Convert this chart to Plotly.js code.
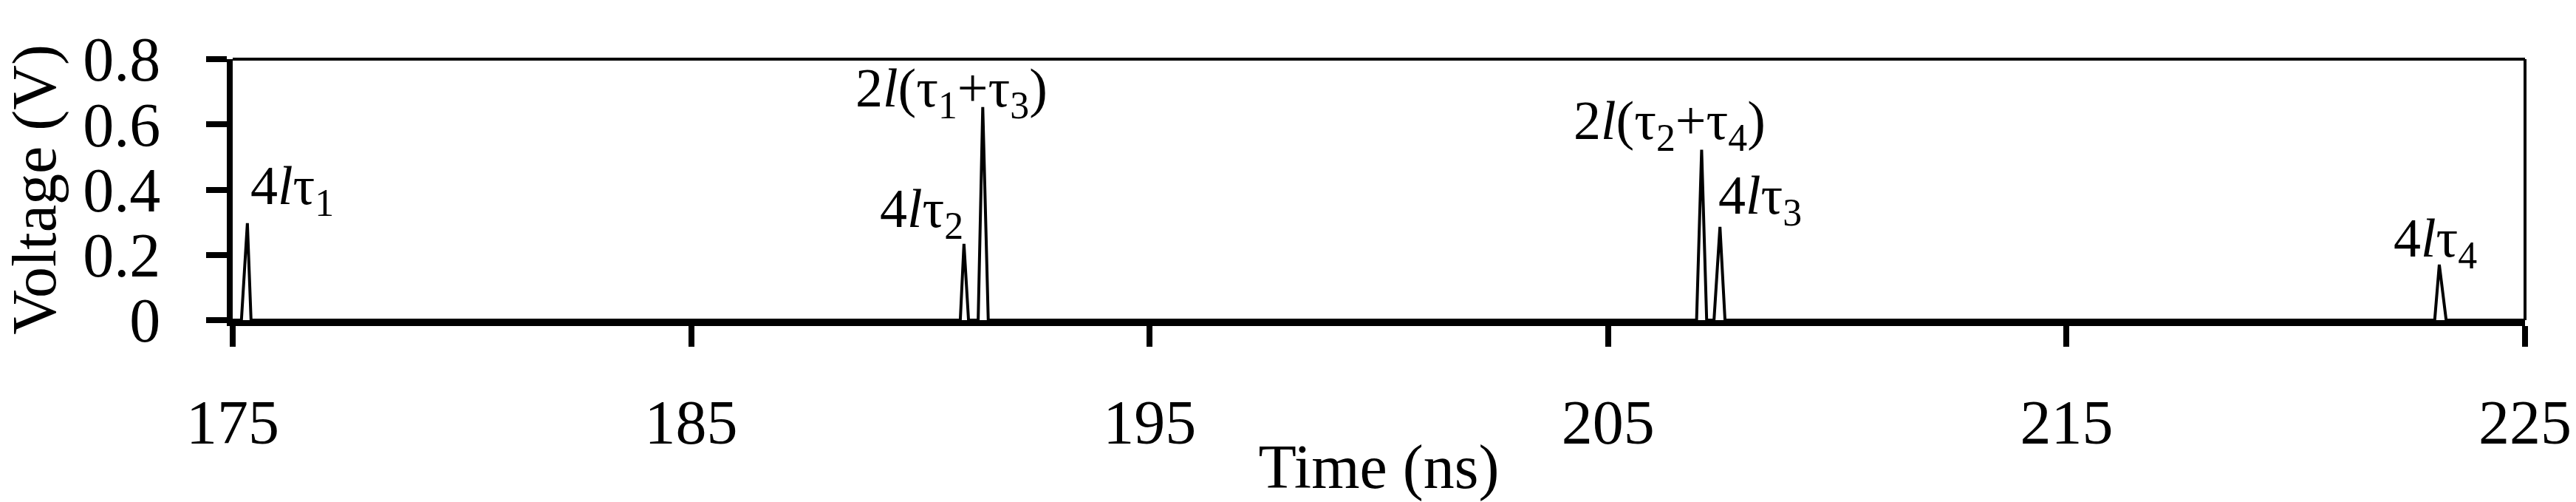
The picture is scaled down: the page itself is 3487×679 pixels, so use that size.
<!DOCTYPE html>
<html>
<head>
<meta charset="utf-8">
<script src="https://cdn.plot.ly/plotly-3.0.1.min.js"></script>
<style>html,body{margin:0;padding:0;background:#fff;}#chart{width:3487px;height:679px;}</style>
</head>
<body>
<div id="chart"></div>
<script>
// Time (ns) and voltage (V) samples of the reflected pulse train
const timeNs = [175, 175.19, 175.32, 175.40, 190.87, 190.95, 191.05, 191.26, 191.36, 191.48,
                206.93, 207.04, 207.15, 207.31, 207.44, 207.55, 223.03, 223.13, 223.28, 225];
const voltage = [0, 0, 0.297, 0, 0, 0.234, 0, 0, 0.653, 0,
                 0, 0.522, 0, 0, 0.286, 0, 0, 0.170, 0, 0];

// Peak labels
const peakLabels = ["4<i>l</i>τ<sub>1</sub>", "4<i>l</i>τ<sub>2</sub>", "2<i>l</i>(τ<sub>1</sub>+τ<sub>3</sub>)",
                    "2<i>l</i>(τ<sub>2</sub>+τ<sub>4</sub>)", "4<i>l</i>τ<sub>3</sub>", "4<i>l</i>τ<sub>4</sub>"];
const labelTime = [176.29, 190.03, 190.68, 206.34, 208.31, 223.05];
const labelVolt = [0.40, 0.33, 0.70, 0.60, 0.37, 0.24];

const xTicks = [175, 185, 195, 205, 215, 225];
const yTicks = [0, 0.2, 0.4, 0.6, 0.8];
const yTickText = ["0", "0.2", "0.4", "0.6", "0.8"];

const FONT = "Liberation Serif, Times New Roman, serif";

const trace = {
  x: timeNs, y: voltage, type: "scatter", mode: "lines",
  line: {color: "#000", width: 4}, hoverinfo: "skip", cliponaxis: false
};

const annotations = peakLabels.map((t, i) => ({
  x: labelTime[i], y: labelVolt[i], xref: "x", yref: "y",
  text: t, showarrow: false, xanchor: "center", yanchor: "middle",
  font: {family: FONT, size: 74, color: "#000"}
}));

const layout = {
  width: 3487, height: 679,
  margin: {l: 315, r: 69, t: 80, b: 246},
  paper_bgcolor: "#fff", plot_bgcolor: "#fff",
  showlegend: false,
  font: {family: FONT, size: 84, color: "#000"},
  xaxis: {
    range: [175, 225], tickvals: xTicks, ticktext: xTicks.map(String),
    ticks: "outside", ticklen: 28, tickwidth: 8, tickcolor: "#000",
    showline: true, linewidth: 8, linecolor: "#000",
    showgrid: false, zeroline: false,
    tickfont: {family: FONT, size: 84, color: "#000"},
    ticklabelstandoff: 30,
    title: {text: "Time (ns)", font: {family: FONT, size: 84, color: "#000"}, standoff: 10}
  },
  yaxis: {
    range: [0, 0.8], tickvals: yTicks, ticktext: yTickText,
    ticks: "outside", ticklen: 28, tickwidth: 8, tickcolor: "#000",
    showline: true, linewidth: 8, linecolor: "#000",
    showgrid: false, zeroline: false,
    tickfont: {family: FONT, size: 84, color: "#000"},
    ticklabelstandoff: 45,
    title: {text: "Voltage (V)", font: {family: FONT, size: 84, color: "#000"}, standoff: 15}
  },
  shapes: [
    {type: "line", xref: "paper", yref: "paper", x0: 0, x1: 1, y0: 1, y1: 1, line: {color: "#000", width: 4}},
    {type: "line", xref: "paper", yref: "paper", x0: 1, x1: 1, y0: 0, y1: 1, line: {color: "#000", width: 4}}
  ],
  annotations: annotations
};

Plotly.newPlot("chart", [trace], layout, {staticPlot: true, displayModeBar: false});
</script>
</body>
</html>
